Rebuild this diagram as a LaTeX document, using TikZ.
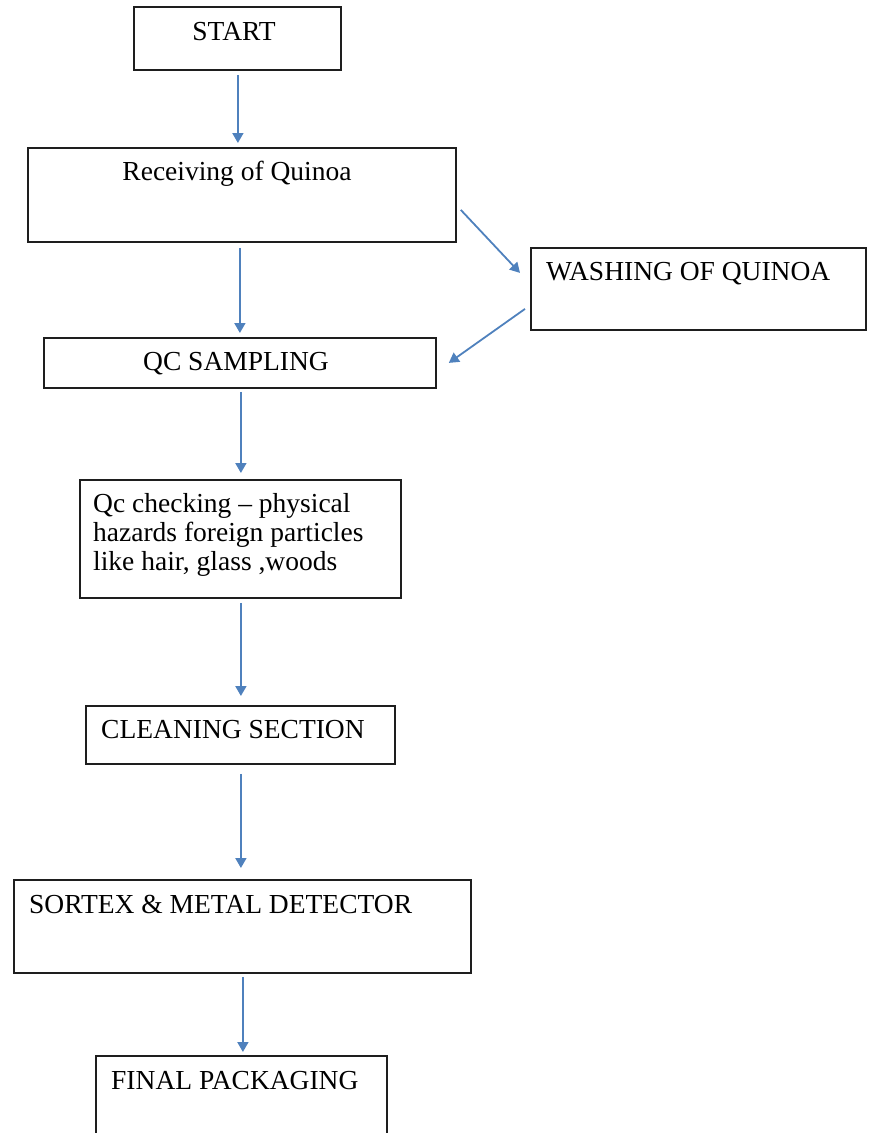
\documentclass[tikz,border=0pt]{standalone}
\usepackage{fontspec}
\setmainfont{Liberation Serif}
\usetikzlibrary{arrows.meta,calc}
\definecolor{arrowblue}{RGB}{79,129,189}
\definecolor{boxline}{RGB}{30,30,30}
\begin{document}
\begin{tikzpicture}[x=1pt,y=-1pt,
  box/.style={draw=boxline,line width=1.8pt,inner sep=0pt,anchor=north west},
  txt/.style={inner sep=0pt,font=\fontsize{27.5pt}{29pt}\selectfont},
  flow/.style={draw=arrowblue,line width=1.8pt,-{Triangle[width=11pt,length=10pt]}}]
\useasboundingbox (0,0) rectangle (869,1133);
\clip (0,0) rectangle (869,1133);
% boxes
\node[box,minimum width=207pt,minimum height=63pt] (start) at (133,6) {};
\node[box,minimum width=428pt,minimum height=94pt] (recv) at (27,147) {};
\node[box,minimum width=335pt,minimum height=82pt] (wash) at (530,247) {};
\node[box,minimum width=392pt,minimum height=50pt] (qcs) at (43,337) {};
\node[box,minimum width=321pt,minimum height=118pt] (qcc) at (79,479) {};
\node[box,minimum width=309pt,minimum height=58pt] (clean) at (85,705) {};
\node[box,minimum width=457pt,minimum height=93pt] (sortex) at (13,879) {};
\node[box,minimum width=291pt,minimum height=110pt] (final) at (95,1055) {};
% texts
\node[txt,anchor=base] (tstart) at (234,40) {START};
\node[txt,anchor=base] (trecv) at (237,180) {Receiving of Quinoa};
\node[txt,anchor=base west] (twash) at (546,280) {WASHING OF QUINOA};
\node[txt,anchor=base] (tqcs) at (236,370) {QC SAMPLING};
\node[txt,anchor=base west] (tqcc1) at (93,512) {Qc checking -- physical};
\node[txt,anchor=base west] (tqcc2) at (93,541) {hazards foreign particles};
\node[txt,anchor=base west] (tqcc3) at (93,570) {like hair, glass ,woods};
\node[txt,anchor=base west] (tclean) at (101,738) {CLEANING SECTION};
\node[txt,anchor=base west] (tsortex) at (29,913) {SORTEX \& METAL DETECTOR};
\node[txt,anchor=base west] (tfinal) at (111,1089) {FINAL PACKAGING};
% connectors
\draw[flow,shorten <=4pt,shorten >=4pt] ($(start.south)+(0.5,0)$) -- ($(start.south|-recv.north)+(0.5,0)$);
\draw[flow,shorten <=5pt,shorten >=4pt] (qcs.north|-recv.south) -- (qcs.north);
\draw[flow] ($(recv.east)+(4,15)$) -- ($(wash.west)+(-10,-16)$);
\draw[flow] ($(wash.west)+(-5,20)$) -- ($(qcs.east)+(12,0)$);
\draw[flow,shorten <=3pt,shorten >=6pt] ($(qcs.south)+(1,0)$) -- ($(qcs.south|-qcc.north)+(1,0)$);
\draw[flow,shorten <=4pt,shorten >=9pt] ($(qcc.south)+(0.5,0)$) -- ($(qcc.south|-clean.north)+(0.5,0)$);
\draw[flow,shorten <=9pt,shorten >=11pt] ($(clean.south)+(0.5,0)$) -- ($(clean.south|-sortex.north)+(0.5,0)$);
\draw[flow,shorten <=3pt,shorten >=3pt] ($(sortex.south)+(0.5,0)$) -- ($(sortex.south|-final.north)+(0.5,0)$);
\end{tikzpicture}
\end{document}
